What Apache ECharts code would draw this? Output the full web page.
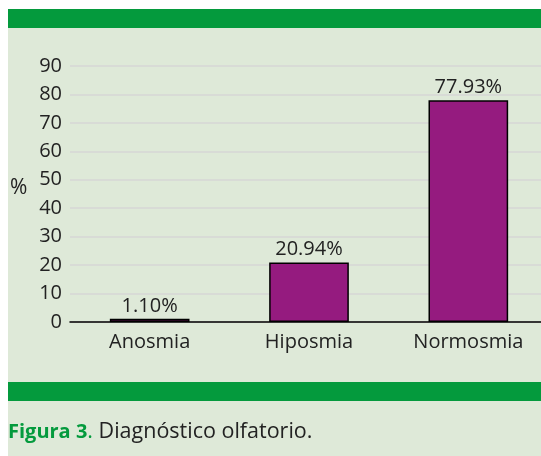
<!DOCTYPE html>
<html>
<head>
<meta charset="utf-8">
<script src="https://cdn.jsdelivr.net/npm/echarts@6/dist/echarts.min.js"></script>
<style>
  html, body { margin: 0; padding: 0; background: #ffffff; }
  #chart { width: 541px; height: 456px; }
</style>
</head>
<body>
<div id="chart"></div>
<script>
var categories = ['Anosmia', 'Hiposmia', 'Normosmia'];
var values = [1.10, 20.94, 77.93];
var valueLabels = ['1.10%', '20.94%', '77.93%'];

var panelBg = '#dee9d8';
var green = '#049a3d';
var txt = '#222222';
var font = 'Open Sans';

var chart = echarts.init(document.getElementById('chart'));
chart.setOption({
  animation: false,
  backgroundColor: '#ffffff',
  textStyle: { fontFamily: font },
  graphic: [
    { type: 'rect', z: -10, shape: { x: 8, y: 9, width: 533, height: 447 }, style: { fill: panelBg } },
    { type: 'rect', z: -9, shape: { x: 8, y: 9, width: 533, height: 19 }, style: { fill: green } },
    { type: 'rect', z: -9, shape: { x: 8, y: 382, width: 533, height: 19 }, style: { fill: green } },
    {
      type: 'text', x: 8, y: 432,
      style: {
        text: '{b|Figura 3}{g|.} Diagnóstico olfatorio.',
        fill: txt, fontSize: 21.5, fontFamily: font, verticalAlign: 'middle',
        rich: {
          b: { fill: green, fontWeight: 'bold', fontSize: 20, fontFamily: font },
          g: { fill: green, fontSize: 21.5, fontFamily: font }
        }
      }
    },
    { type: 'text', x: 10, y: 188, style: { text: '%', fill: txt, fontSize: 21, fontFamily: font, verticalAlign: 'middle' } }
  ],
  grid: { left: 70, width: 478, top: 66, bottom: 134, outerBoundsMode: 'none' },
  xAxis: {
    type: 'category',
    data: categories,
    axisLine: { lineStyle: { color: '#000000', width: 1.5 } },
    axisTick: { show: false },
    axisLabel: { color: txt, fontSize: 20, margin: 10 }
  },
  yAxis: {
    type: 'value',
    min: 0, max: 90, interval: 10,
    axisLine: { show: false },
    axisTick: { show: false },
    axisLabel: { color: txt, fontSize: 20, margin: 8 },
    splitLine: { lineStyle: { color: '#d6d6d6', width: 1.5 } }
  },
  series: [{
    type: 'bar',
    data: values,
    barWidth: '50%',
    itemStyle: { color: '#951b7f', borderColor: '#000000', borderWidth: 1.5 },
    label: {
      show: true, position: 'top', distance: 3,
      color: txt, fontSize: 20,
      formatter: function (p) { return valueLabels[p.dataIndex]; }
    }
  }]
});
</script>
</body>
</html>
